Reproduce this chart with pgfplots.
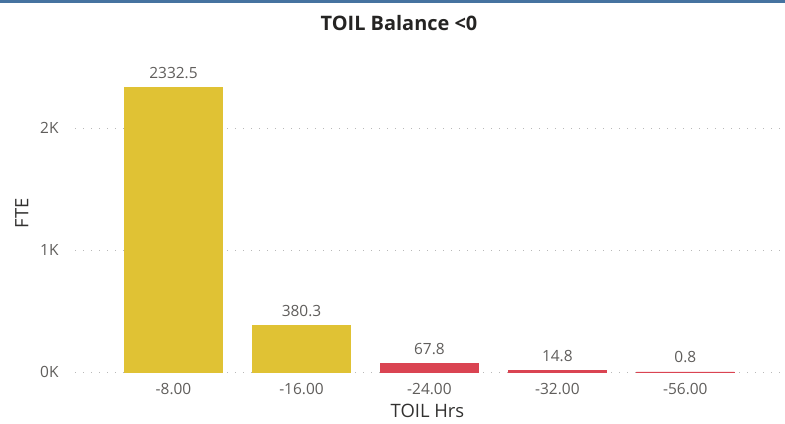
\documentclass[border=0pt]{standalone}
\usepackage{pgfplots}
\pgfplotsset{compat=1.18}
\usepackage{fontspec}
\setmainfont{Open Sans}
\definecolor{baryellow}{RGB}{224,194,52}
\definecolor{barred}{RGB}{218,68,82}
\definecolor{txtgray}{RGB}{96,94,92}
\definecolor{topblue}{RGB}{70,115,160}
\begin{document}
\begin{tikzpicture}[x=1bp,y=1bp]
\useasboundingbox (0,0) rectangle (785,423);
\fill[white] (0,0) rectangle (785,423);
\fill[topblue] (0,420) rectangle (785,423);
\node[font=\bfseries\fontsize{20}{24}\selectfont, text={rgb,255:red,37;green,36;blue,35}] at (399,400) {TOIL Balance <0};
\begin{axis}[
  at={(75bp,51bp)}, anchor=south west,
  scale only axis, width=705bp, height=317.2bp,
  ybar, bar shift=0pt, bar width=0.766,
  xmin=-0.77, xmax=4.74, ymin=0, ymax=2600,
  xtick={0,1,2,3,4},
  xticklabels={-8.00,-16.00,-24.00,-32.00,-56.00},
  ytick={0,1000,2000}, yticklabels={0K,1K,2K},
  axis line style={draw=none}, tick style={draw=none},
  ymajorgrids, grid style={draw=gray!55, line width=0.9bp, dash pattern=on 1bp off 7bp},
  tick label style={font=\fontsize{15.5}{18}\selectfont, text=txtgray},
  yticklabel style={xshift=-13bp},
  xticklabel style={yshift=-4bp},
  xlabel={TOIL Hrs}, ylabel={FTE},
  label style={font=\fontsize{18.5}{22}\selectfont, text={rgb,255:red,50;green,49;blue,48}},
  xlabel style={yshift=-2bp},
  ylabel style={yshift=5bp},
  nodes near coords={\pgfmathprintnumber[fixed,precision=1,1000 sep={},assume math mode=true]{\pgfplotspointmeta}},
  nodes near coords style={font=\fontsize{15.5}{18}\selectfont, text=txtgray, yshift=5bp},
]
\addplot[fill=baryellow, draw=baryellow, line width=0.8bp] coordinates {(0,2332.5) (1,380.3)};
\addplot[fill=barred, draw=barred, line width=0.8bp] coordinates {(2,67.8) (3,14.8) (4,0.8)};
\end{axis}
\end{tikzpicture}
\end{document}
